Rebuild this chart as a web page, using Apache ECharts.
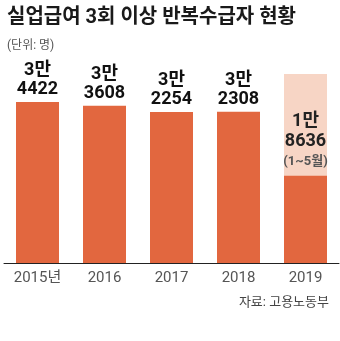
<!DOCTYPE html>
<html>
<head>
<meta charset="utf-8">
<script src="https://cdn.jsdelivr.net/npm/echarts@6/dist/echarts.min.js"></script>
<style>
  html, body { margin: 0; padding: 0; background: #fff; }
  #chart { width: 340px; height: 341px; }
</style>
</head>
<body>
<div id="chart"></div>
<script>
// 실업급여 3회 이상 반복수급자 (단위: 명)
const years = ['2015년', '2016', '2017', '2018', '2019'];
const recipients = [34422, 33608, 32254, 32308, 18636];
const valueLabels = ['3만\n4422', '3만\n3608', '3만\n2254', '3만\n2308', '1만\n8636'];
// 2019년은 1~5월 집계 — 연간 칸을 옅은 색으로 표시
const yearSpan = [null, null, null, null, 40400];

const FONT = 'Roboto, "Noto Sans CJK KR", sans-serif';
const ORANGE = '#E2673F';
const PALE = '#F7D5C5';

const chart = echarts.init(document.getElementById('chart'));
chart.setOption({
  animation: false,
  grid: { left: 4, right: 1, top: 74, bottom: 78 },
  title: [
    {
      text: '실업급여 3회 이상 반복수급자 현황',
      left: 2, top: 3,
      textStyle: { fontFamily: FONT, fontSize: 20, fontWeight: 'bold', color: '#1a1a1a' }
    },
    {
      text: '(단위: 명)',
      left: 2, top: 35,
      textStyle: { fontFamily: FONT, fontSize: 12, fontWeight: 'normal', color: '#555' }
    },
    {
      text: '자료: 고용노동부',
      right: 6, top: 291,
      textStyle: { fontFamily: FONT, fontSize: 13, fontWeight: 'normal', color: '#444' }
    }
  ],
  xAxis: {
    type: 'category',
    data: years,
    axisLine: { lineStyle: { color: '#222', width: 1 } },
    axisTick: { show: false },
    axisLabel: { fontFamily: FONT, fontSize: 15, color: '#555', margin: 8 }
  },
  yAxis: {
    type: 'value', min: 0, max: 40400,
    show: false,
    splitLine: { show: false }
  },
  series: [
    {
      type: 'bar',
      data: yearSpan,
      barWidth: 43,
      itemStyle: { color: PALE },
      silent: true,
      z: 1
    },
    {
      type: 'bar',
      barWidth: 43,
      barGap: '-100%',
      itemStyle: { color: ORANGE },
      z: 2,
      data: recipients.map((v, i) => i === 4 ? {
        value: v,
        // 2019년 라벨은 옅은 칸 안쪽에 배치
        label: {
          position: 'top',
          distance: 4,
          formatter: '{a|' + valueLabels[i].replace('\n', '}\n{a|') + '}\n{b|(1~5월)}',
          rich: {
            a: { fontFamily: FONT, fontSize: 18, fontWeight: 'bold', lineHeight: 20, color: '#222' },
            b: { fontFamily: FONT, fontSize: 13, lineHeight: 20, color: '#555' }
          }
        }
      } : v),
      label: {
        show: true,
        position: 'top',
        distance: 3,
        formatter: p => valueLabels[p.dataIndex],
        fontFamily: FONT,
        fontSize: 18,
        fontWeight: 'bold',
        lineHeight: 19,
        color: '#111'
      }
    }
  ]
});
</script>
</body>
</html>
